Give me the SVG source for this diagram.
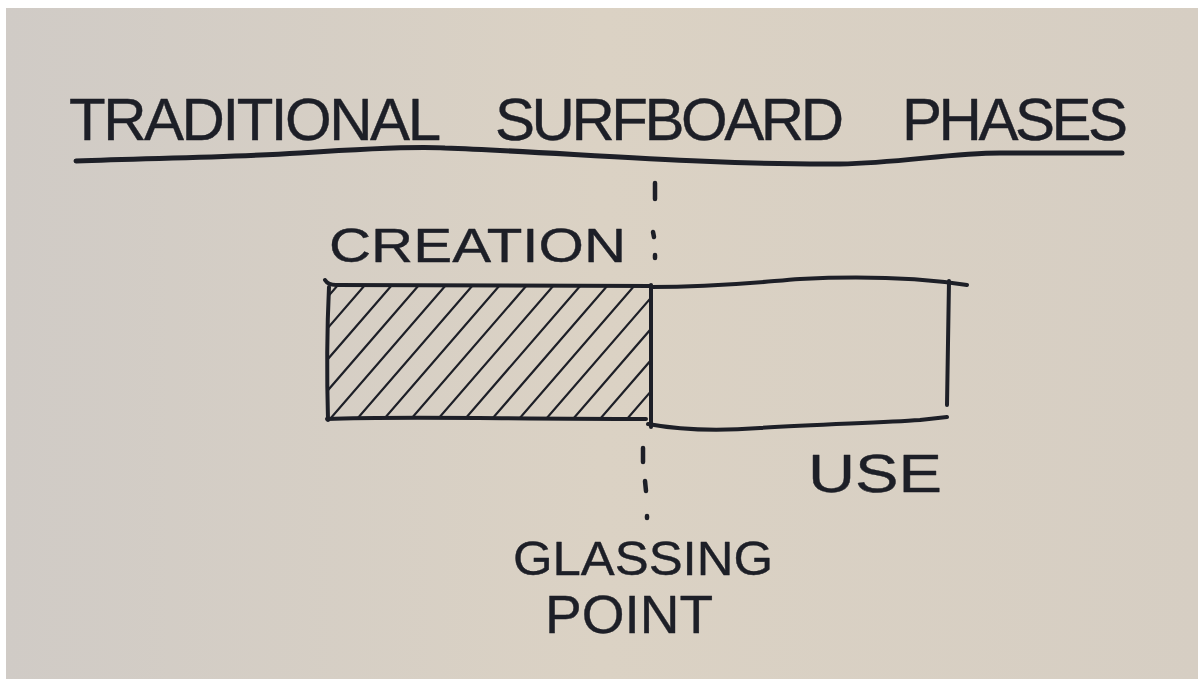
<svg xmlns="http://www.w3.org/2000/svg" width="1203" height="679" viewBox="0 0 1203 679">
<defs>
<linearGradient id="paper" x1="0" y1="0" x2="1" y2="0">
<stop offset="0" stop-color="#d0cbc6"/>
<stop offset="0.5" stop-color="#dbd2c4"/>
<stop offset="1" stop-color="#d6cec3"/>
</linearGradient>
<clipPath id="hatchClip"><rect x="329" y="286" width="321" height="132"/></clipPath>
<style>
.ink{fill:none;stroke:#1d1f27;stroke-linecap:round;stroke-linejoin:round}
.edge{stroke-width:4}
.under{stroke-width:5}
.hatch{stroke-width:2.2}
.dash{stroke-width:4.5}
.hand{font-family:"Liberation Sans","DejaVu Sans",sans-serif;fill:#1d1f27;stroke:#1d1f27;stroke-width:0.4;stroke-linejoin:round}
</style>
</defs>
<rect x="0" y="0" width="1203" height="679" fill="#ffffff"/>
<rect x="6" y="8" width="1192" height="671" fill="url(#paper)"/>

<g id="title">
<text class="hand" font-size="60" y="140" lengthAdjust="spacingAndGlyphs"><tspan x="69" textLength="372">TRADITIONAL</tspan><tspan x="495" textLength="349">SURFBOARD</tspan><tspan x="902" textLength="226">PHASES</tspan></text>
<path class="ink under" d="M76,161 C150,158 220,158 300,153 C360,149 410,146 445,148 C560,152 700,165 840,164 C900,163 950,153 1000,153 L1122,153"/>
</g>

<g id="creation">
<g clip-path="url(#hatchClip)" class="ink hatch">
<line x1="222" y1="419" x2="338" y2="285"/>
<line x1="249" y1="419" x2="365" y2="285"/>
<line x1="276" y1="419" x2="392" y2="285"/>
<line x1="303" y1="419" x2="419" y2="285"/>
<line x1="330" y1="419" x2="446" y2="285"/>
<line x1="357" y1="419" x2="473" y2="285"/>
<line x1="384" y1="419" x2="500" y2="285"/>
<line x1="411" y1="419" x2="527" y2="285"/>
<line x1="438" y1="419" x2="554" y2="285"/>
<line x1="465" y1="419" x2="581" y2="285"/>
<line x1="492" y1="419" x2="608" y2="285"/>
<line x1="519" y1="419" x2="635" y2="285"/>
<line x1="546" y1="419" x2="662" y2="285"/>
<line x1="573" y1="419" x2="689" y2="285"/>
<line x1="600" y1="419" x2="716" y2="285"/>
<line x1="627" y1="419" x2="743" y2="285"/>
</g>
<path class="ink edge" d="M325,280 Q328,285 336,285 L651,286"/>
<path class="ink edge" d="M329,287 Q326,350 328,420"/>
<path class="ink edge" d="M327,419 C400,416 500,419 646,419"/>
<path class="ink edge" d="M651,285 L651,427"/>
<text class="hand" font-size="48" x="329" y="262" textLength="297" lengthAdjust="spacingAndGlyphs">CREATION</text>
</g>

<g id="use">
<path class="ink edge" d="M651,287 C720,287 760,282 800,279 C860,276 920,278 967,285"/>
<path class="ink edge" d="M949,281 L947,405"/>
<path class="ink edge" d="M648,424 C680,430 720,431 760,428 C820,424 880,423 920,420 L947,417"/>
<text class="hand" font-size="54" x="808" y="492" textLength="134" lengthAdjust="spacingAndGlyphs">USE</text>
</g>

<g id="glassing-point">
<text class="hand" font-size="48" x="513" y="575" textLength="260" lengthAdjust="spacingAndGlyphs">GLASSING</text>
<text class="hand" font-size="54" x="545" y="633" textLength="168" lengthAdjust="spacingAndGlyphs">POINT</text>
</g>

<g id="connectors" class="ink dash">
<line x1="655" y1="183" x2="655" y2="199"/>
<line x1="653" y1="232" x2="654" y2="237"/>
<line x1="655" y1="255" x2="655" y2="258"/>
<line x1="643" y1="448" x2="643" y2="462"/>
<line x1="645" y1="481" x2="646" y2="491"/>
<line x1="647" y1="516" x2="647" y2="518"/>
</g>
</svg>
